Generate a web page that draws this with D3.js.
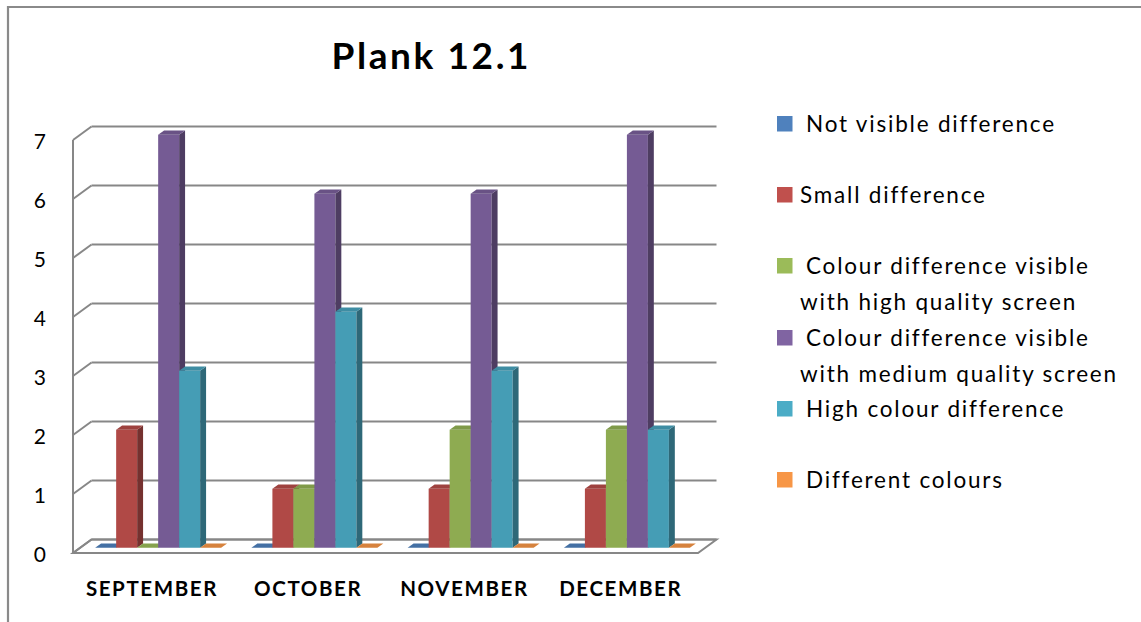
<!DOCTYPE html>
<html>
<head>
<meta charset="utf-8">
<script src="https://cdn.jsdelivr.net/npm/d3@7"></script>
<style>
  html, body { margin: 0; padding: 0; background: #fff; }
  svg { display: block; }
  text { font-family: Lato, "Open Sans", sans-serif; fill: #000; }
</style>
</head>
<body>
<svg id="chart" width="1141" height="622"></svg>
<script>
// ---- data ----
const title = "Plank 12.1";
const categories = ["SEPTEMBER", "OCTOBER", "NOVEMBER", "DECEMBER"];
const seriesNames = [
  ["Not visible difference"],
  ["Small difference"],
  ["Colour difference visible", "with high quality screen"],
  ["Colour difference visible", "with medium quality screen"],
  ["High colour difference"],
  ["Different colours"]
];
const notVisible   = [0, 0, 0, 0];
const smallDiff    = [2, 1, 1, 1];
const highQuality  = [0, 1, 2, 2];
const mediumQuality= [7, 6, 6, 7];
const highColour   = [3, 4, 3, 2];
const differentCol = [0, 0, 0, 0];
const seriesValues = [notVisible, smallDiff, highQuality, mediumQuality, highColour, differentCol];
const seriesColors = ["#4F81BD", "#C0504D", "#9BBB59", "#8064A2", "#4BACC6", "#F79646"];
const yTicks = [0, 1, 2, 3, 4, 5, 6, 7];

// ---- layout ----
const svg = d3.select("#chart");
const frontLeft = 73, frontRight = 698;
const DX = 18.5, DY = 13.5;        // depth projection of the full floor depth
const zFront = 0.38, zBack = 0.70; // bar depth position

const x = d3.scaleBand().domain(categories).range([frontLeft, frontRight])
  .paddingInner(0.1936).paddingOuter(0.0968);
const xs = d3.scaleBand().domain(d3.range(seriesValues.length)).range([0, x.bandwidth()]).padding(0);
const y = d3.scaleLinear().domain([0, 7]).range([553, 140]);

const proj = (px, v, z) => [px + z * DX, y(v) - z * DY];
const poly = pts => "M" + pts.map(p => p.join(",")).join("L") + "Z";

// outer border (top + left)
svg.append("path").attr("d", "M8,622 L8,7 L1141,7")
  .attr("fill", "none").attr("stroke", "#8a8a8a").attr("stroke-width", 2.2);

// title
svg.append("text").attr("x", 430 + 1.3).attr("y", 69).attr("text-anchor", "middle")
  .attr("font-size", 37).attr("font-weight", "bold").attr("letter-spacing", 2.6).text(title);

const gridColor = "#878787";
const grid = svg.append("g").attr("fill", "none").attr("stroke", gridColor).attr("stroke-width", 2);

// floor
grid.append("path").attr("fill", "#fff")
  .attr("d", poly([proj(frontLeft, 0, 0), proj(frontRight, 0, 0), proj(frontRight, 0, 1), proj(frontLeft, 0, 1)]));

// back wall gridlines + side wall diagonals
yTicks.forEach(t => {
  grid.append("path").attr("d", "M" + proj(frontLeft, t, 1).join(",") + "L" + proj(frontRight, t, 1).join(","));
  grid.append("path").attr("d", "M" + proj(frontLeft, t, 0).join(",") + "L" + proj(frontLeft, t, 1).join(","));
});
// front vertical axis line
grid.append("path").attr("d", "M" + proj(frontLeft, 0, 0).join(",") + "L" + proj(frontLeft, 7, 0).join(","));

// y tick labels
svg.append("g").selectAll("text").data(yTicks).join("text")
  .attr("x", 46).attr("y", d => y(d) + 9).attr("text-anchor", "end")
  .attr("font-size", 21).text(d => d);

// bars (drawn left to right for occlusion)
const bars = svg.append("g");
categories.forEach((cat, ci) => {
  seriesValues.forEach((vals, si) => {
    const v = vals[ci];
    const x0 = x(cat) + xs(si), x1 = x0 + xs.bandwidth();
    const base = d3.color(seriesColors[si]);
    const g = bars.append("g");
    if (v > 0) {
      g.append("path").attr("fill", base.darker(0.25))
        .attr("d", poly([proj(x0, 0, zFront), proj(x1, 0, zFront), proj(x1, v, zFront), proj(x0, v, zFront)]));
      g.append("path").attr("fill", base.darker(1.4))
        .attr("d", poly([proj(x1, 0, zFront), proj(x1, 0, zBack), proj(x1, v, zBack), proj(x1, v, zFront)]));
    }
    g.append("path").attr("fill", base.darker(v > 0 ? 0.55 : 0.4))
      .attr("d", poly([proj(x0, v, zFront), proj(x1, v, zFront), proj(x1, v, zBack), proj(x0, v, zBack)]));
  });
});

// x labels
svg.append("g").selectAll("text").data(categories).join("text")
  .attr("x", d => x(d) + x.bandwidth() / 2 + 0.8).attr("y", 596).attr("text-anchor", "middle")
  .attr("font-size", 20.5).attr("font-weight", "bold").attr("letter-spacing", 1.6).text(d => d);

// legend
const legendY = [124, 195, 266, 338, 409, 480];
const legend = svg.append("g");
seriesNames.forEach((lines, i) => {
  const cy = legendY[i];
  legend.append("rect").attr("x", 777).attr("y", cy - 8).attr("width", 15.5).attr("height", 15.5)
    .attr("fill", seriesColors[i]);
  lines.forEach((ln, li) => {
    const indent = (li === 0 && i !== 1) ? 806 : 800;
    legend.append("text").attr("x", indent).attr("y", cy + 8 + li * 36)
      .attr("font-size", 22.5).attr("letter-spacing", 1.8).text(ln);
  });
});
</script>
</body>
</html>
